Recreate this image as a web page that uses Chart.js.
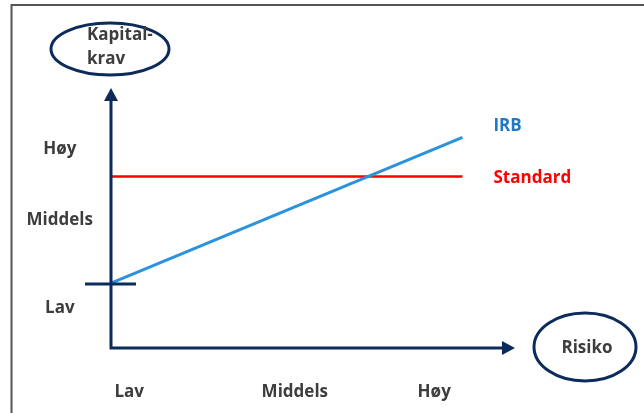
<!DOCTYPE html>
<html>
<head>
<meta charset="utf-8">
<script src="https://cdn.jsdelivr.net/npm/chart.js@4/dist/chart.umd.min.js"></script>
<style>
  html, body { margin: 0; padding: 0; background: #fff; }
  canvas { display: block; }
</style>
</head>
<body>
<canvas id="kravChart" width="644" height="413"></canvas>
<script>
// risk levels on both axes and where they sit on the 0-100 scales
const riskLabels = ["Lav", "Middels", "Høy"];
const riskTicks = [4.5, 45.5, 80];
const kravLabels = ["Lav", "Middels", "Høy"];
const kravTicks = [15.5, 49, 76.5];

// capital requirement lines
const riskX = [0, 87];
const irbValues = [25, 81];
const standardValues = [66, 66];

const navy = "#0d2b5a";
const textGrey = "#3d3d3d";
const fontFamily = "'Open Sans', sans-serif";
const boldFont = "bold 17px " + fontFamily;

function toPoints(xs, ys) {
  return xs.map((x, i) => ({ x: x, y: ys[i] }));
}

function ellipse(ctx, cx, cy, rx, ry) {
  ctx.beginPath();
  ctx.ellipse(cx, cy, rx, ry, 0, 0, Math.PI * 2);
  ctx.stroke();
}

// frame, arrows, ellipses and line labels
const decorations = {
  id: "decorations",
  beforeDraw(chart) {
    const ctx = chart.ctx;
    ctx.save();
    ctx.strokeStyle = "#555";
    ctx.lineWidth = 2;
    ctx.beginPath();
    ctx.moveTo(11.5, 413);
    ctx.lineTo(11.5, 5);
    ctx.lineTo(644, 5);
    ctx.stroke();
    ctx.restore();
  },
  afterDatasetsDraw(chart) {
    const ctx = chart.ctx;
    const xs = chart.scales.x, ys = chart.scales.y;
    const x0 = xs.left, y0 = ys.bottom;
    const top = ys.top, right = xs.right;
    ctx.save();

    // axes with arrowheads
    ctx.strokeStyle = navy;
    ctx.fillStyle = navy;
    ctx.lineWidth = 3;
    ctx.beginPath();
    ctx.moveTo(x0, top + 10);
    ctx.lineTo(x0, y0);
    ctx.lineTo(right - 10, y0);
    ctx.stroke();
    ctx.beginPath();
    ctx.moveTo(x0, top);
    ctx.lineTo(x0 - 7, top + 13);
    ctx.lineTo(x0 + 7, top + 13);
    ctx.closePath();
    ctx.fill();
    ctx.beginPath();
    ctx.moveTo(right, y0);
    ctx.lineTo(right - 13, y0 - 7);
    ctx.lineTo(right - 13, y0 + 7);
    ctx.closePath();
    ctx.fill();

    // short mark where IRB starts
    const yStart = ys.getPixelForValue(irbValues[0]);
    ctx.beginPath();
    ctx.moveTo(x0 - 26, yStart + 1);
    ctx.lineTo(x0 + 25, yStart + 1);
    ctx.stroke();

    // axis title ellipses
    ellipse(ctx, 110, 49, 59, 26);
    ellipse(ctx, 585, 347, 51, 34);

    ctx.font = boldFont;
    ctx.fillStyle = textGrey;
    ctx.textBaseline = "middle";
    ctx.textAlign = "left";
    ctx.fillText("Kapital-", 87, 35);
    ctx.fillText("krav", 87, 59);
    ctx.textAlign = "center";
    ctx.fillText("Risiko", 587, 348);

    // series names at the line ends
    ctx.textAlign = "left";
    chart.data.datasets.forEach((ds, i) => {
      const meta = chart.getDatasetMeta(i);
      const last = meta.data[meta.data.length - 1];
      ctx.fillStyle = ds.labelColor;
      ctx.fillText(ds.label, last.x + 31, last.y + ds.labelShift);
    });
    ctx.restore();
  }
};

const tickFont = { family: fontFamily, size: 17, weight: "bold" };

new Chart(document.getElementById("kravChart"), {
  type: "line",
  data: {
    datasets: [
      {
        label: "IRB",
        data: toPoints(riskX, irbValues),
        borderColor: "#2b93dc",
        borderWidth: 3,
        labelColor: "#1f78c8",
        labelShift: -11
      },
      {
        label: "Standard",
        data: toPoints(riskX, standardValues),
        borderColor: "#ff0000",
        borderWidth: 2.5,
        labelColor: "#ff0000",
        labelShift: 2
      }
    ]
  },
  options: {
    responsive: false,
    animation: false,
    layout: { padding: { top: 88, right: 129, left: 0, bottom: 0 } },
    elements: { point: { radius: 0 }, line: { tension: 0 } },
    plugins: { legend: { display: false }, tooltip: { enabled: false } },
    scales: {
      x: {
        type: "linear",
        min: 0,
        max: 100,
        grid: { display: false },
        border: { display: false },
        afterFit: s => { s.height = 65; },
        afterBuildTicks: s => { s.ticks = riskTicks.map(v => ({ value: v })); },
        ticks: {
          padding: 26,
          color: textGrey,
          font: tickFont,
          callback: (v) => riskLabels[riskTicks.indexOf(v)]
        }
      },
      y: {
        type: "linear",
        min: 0,
        max: 100,
        grid: { display: false },
        border: { display: false },
        afterFit: s => { s.width = 111; },
        afterBuildTicks: s => { s.ticks = kravTicks.map(v => ({ value: v })); },
        ticks: {
          padding: 10,
          crossAlign: "center",
          color: textGrey,
          font: tickFont,
          callback: (v) => kravLabels[kravTicks.indexOf(v)]
        }
      }
    }
  },
  plugins: [decorations]
});
</script>
</body>
</html>
